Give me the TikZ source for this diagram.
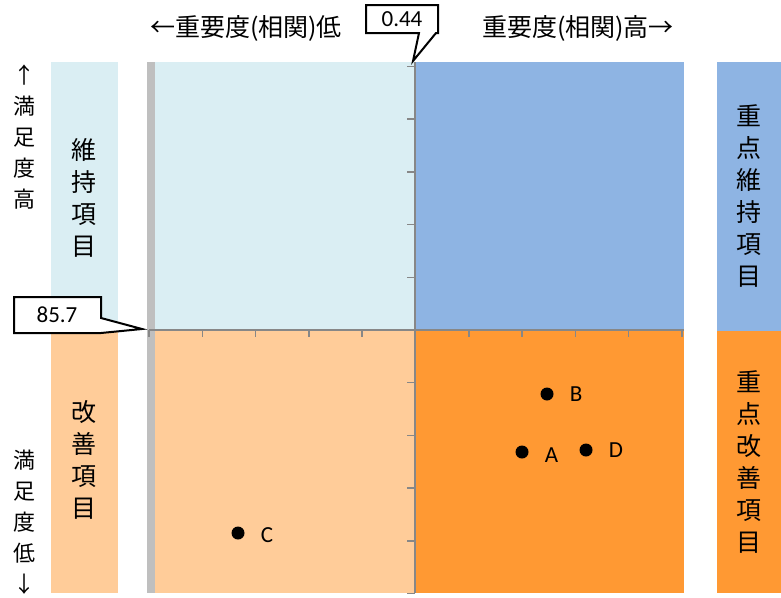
\documentclass[tikz,border=0pt]{standalone}
\usepackage{fontspec}
\setmainfont{Carlito}
\newfontfamily\jp{Noto Sans CJK JP}
\usetikzlibrary{positioning}
\definecolor{iji}{HTML}{DAEEF3}
\definecolor{juten}{HTML}{8EB4E3}
\definecolor{kaizen}{HTML}{FFCC99}
\definecolor{jkaizen}{HTML}{FF9933}
\definecolor{jiku}{HTML}{878787}
\definecolor{waku}{HTML}{BFBFBF}
\tikzstyle{ten} = [circle, fill=black, inner sep=0pt, minimum size=13pt]
\tikzstyle{kigo} = [font=\fontsize{23}{26}\selectfont, inner sep=0pt]
\tikzstyle{midashi} = [font=\jp\fontsize{25}{28}\selectfont, inner sep=0pt]
\tikzstyle{tate} = [font=\jp\fontsize{22}{31}\selectfont, align=center, inner sep=0pt]
\tikzstyle{koumoku} = [font=\jp\fontsize{25}{32}\selectfont, align=center, inner sep=0pt]
\tikzstyle{fukidashi} = [draw=black, line width=2pt, fill=white, line join=miter]
\tikzstyle{memori} = [draw=jiku, line width=1.5pt]

\begin{document}
\begin{tikzpicture}[x=1pt, y=-1pt]
\useasboundingbox (0,0) rectangle (781,597);
\fill[iji] (51,62) rectangle (118,331);
\fill[kaizen] (51,331) rectangle (118,593);
\fill[juten] (717,62) rectangle (781,331);
\fill[jkaizen] (717,331) rectangle (781,593);
\fill[waku] (147,62) rectangle (155,593);
\fill[iji] (155,62) rectangle (415,330);
\fill[juten] (415,62) rectangle (684,330);
\fill[kaizen] (155,330) rectangle (415,593);
\fill[jkaizen] (415,330) rectangle (684,593);
\draw[memori] (149,330) -- (684,330);
\draw[memori] (415,62) -- (415,593);
\foreach \i in {0,...,10}
  \draw[memori] (149+53.3*\i,330) -- (149+53.3*\i,337);
\foreach \i in {-5,...,5}
  \draw[memori] (407,330+52.7*\i) -- (415,330+52.7*\i);

\node[midashi] (lo) at (246,28) {←重要度(相関)低};
\node[midashi] (hi) at (578,28) {重要度(相関)高→};
\node[tate] (up) at (24,137) {↑\\満\\足\\度\\高};
\node[tate] (down) at (24,522) {満\\足\\度\\低\\↓};
\node[koumoku] (iji) at (84,198) {維\\持\\項\\目};
\node[koumoku] (kaizen) at (84,460) {改\\善\\項\\目};
\node[koumoku] (juteniji) at (749,196) {重\\点\\維\\持\\項\\目};
\node[koumoku] (jutenkaizen) at (749,462) {重\\点\\改\\善\\項\\目};

\draw[fukidashi] (366,5) -- (438,5) -- (438,33) -- (436,33) -- (413,61) -- (419,33) -- (366,33) -- cycle;
\node[kigo] (xval) at (402,19) {0.44};
\draw[fukidashi] (14,297) -- (101,297) -- (101,318) -- (142,329) -- (101,333) -- (14,333) -- cycle;
\node[kigo] (yval) at (57,315) {85.7};

\node[ten] (b) at (547,394) {};
\node[kigo, right=16pt of b] {B};
\node[ten] (a) at (522,452) {};
\node[kigo, right=16pt of a, yshift=-3pt] {A};
\node[ten] (d) at (586,450) {};
\node[kigo, right=16pt of d] {D};
\node[ten] (c) at (238,533) {};
\node[kigo, right=16pt of c, yshift=-2pt] {C};
\end{tikzpicture}
\end{document}
